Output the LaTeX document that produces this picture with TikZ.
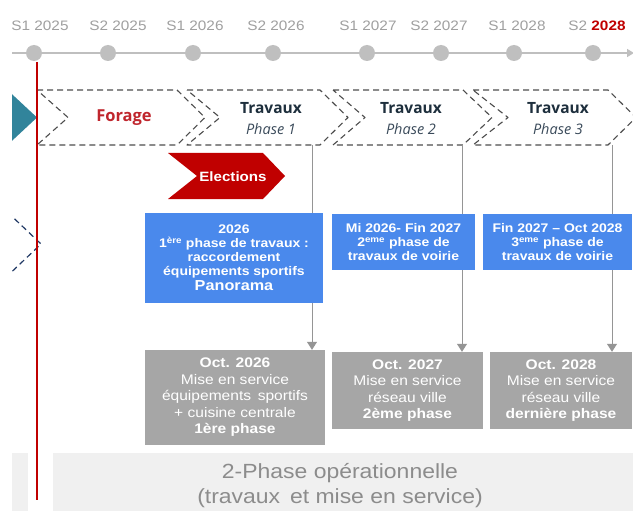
\documentclass[tikz,border=0pt]{standalone}
\usepackage{fontspec}
\setmainfont{Liberation Sans}
\newfontfamily\arw[FakeStretch=1.12]{Liberation Sans}
\newfontfamily\osans{Open Sans}
\usetikzlibrary{arrows.meta}
\definecolor{tlgray}{HTML}{BFBFBF}
\definecolor{lblgray}{HTML}{A0A0A0}
\definecolor{redline}{HTML}{C00000}
\definecolor{teal}{HTML}{31849B}
\definecolor{dashgray}{HTML}{4D4D4D}
\definecolor{navy}{HTML}{1F3864}
\definecolor{forage}{HTML}{C0262D}
\definecolor{travtxt}{HTML}{1E2F3D}
\definecolor{phasetxt}{HTML}{3A4A5A}
\definecolor{elec}{HTML}{C00000}
\definecolor{bluebox}{HTML}{4A89EC}
\definecolor{graybox}{HTML}{A6A6A6}
\definecolor{bandcol}{HTML}{F0F0F0}
\definecolor{bandtxt}{HTML}{8C8C8C}
\definecolor{conncol}{HTML}{959595}
\tikzset{
  tlline/.style={draw=tlgray, line width=1.6pt, -{Triangle[length=7pt,width=8pt]}},
  tldot/.style={circle, fill=tlgray, minimum size=16pt, inner sep=0pt},
  tllbl/.style={text=lblgray, font={\arw\fontsize{13.7}{15}\selectfont}},
  chev/.style={draw=dashgray, line width=1.1pt, dash pattern=on 6pt off 4pt, line join=round},
  travlbl/.style={align=center, font={\osans\fontsize{15.5}{21}\selectfont}},
  conn/.style={draw=conncol, line width=1pt, -{Triangle[length=8pt,width=10pt]}},
  bbox/.style={fill=bluebox, text=white, align=center, inner sep=0pt,
    font={\arw\bfseries\fontsize{12.5}{14}\selectfont}},
  gbox/.style={fill=graybox, text=white, align=center, inner sep=0pt,
    font={\arw\fontsize{13.9}{16.5}\selectfont}},
}
\begin{document}
\begin{tikzpicture}[x=1pt,y=-1pt]
\useasboundingbox (0,0) rectangle (633,511);
\fill[white] (0,0) rectangle (633,511);
\begin{scope}
\clip (12,0) rectangle (633,511);
% bottom band
\fill[bandcol] (12,453) rectangle (28,511);
\node[fill=bandcol, minimum width=580pt, minimum height=58pt, anchor=north west, inner sep=0pt] (band) at (53,453) {};
\node[text=bandtxt, align=center, font={\arw\fontsize{20.5}{25}\selectfont}] (bandtext) at (340,485.5) {2-Phase opérationnelle\\(travaux\, et mise en service)};
% timeline
\coordinate (tstart) at (12,53);
\coordinate (tend) at (634,53);
\draw[tlline] (tstart) -- (tend);
\foreach \i/\x in {1/34,2/108,3/193,4/273,5/367,6/441,7/514,8/593}{
  \node[tldot] (d\i) at (\x,53) {};
}
\node[tllbl] (l1) at (40,26) {S1 2025};
\node[tllbl] (l2) at (118,26) {S2 2025};
\node[tllbl] (l3) at (195,26) {S1 2026};
\node[tllbl] (l4) at (276,26) {S2 2026};
\node[tllbl] (l5) at (368,26) {S1 2027};
\node[tllbl] (l6) at (439,26) {S2 2027};
\node[tllbl] (l7) at (517,26) {S1 2028};
\node[tllbl] (l8) at (597,26) {S2 \textcolor{redline}{\bfseries 2028}};
% teal triangle and left dashed chevron
\fill[teal] (0,83) -- (37,117.5) -- (0,152) -- cycle;
\draw[draw=navy, line width=1.2pt, dash pattern=on 6pt off 4pt] (0,205) -- (41,244) -- (0,283);
% chevrons
\draw[chev] (37,90) -- (177,90) -- (205,117.5) -- (177,145) -- (37,145) -- (68,117.5) -- cycle;
\draw[chev] (187,90) -- (320,90) -- (348,117.5) -- (320,145) -- (187,145) -- (220,117.5) -- cycle;
\draw[chev] (333,90) -- (463,90) -- (492,117.5) -- (463,145) -- (333,145) -- (365,117.5) -- cycle;
\draw[chev] (473,90) -- (608,90) -- (636,117.5) -- (608,145) -- (473,145) -- (508,117.5) -- cycle;
\node[text=forage, font={\osans\bfseries\fontsize{16.5}{18}\selectfont}] (forage) at (124,118) {Forage};
\node[travlbl] (t1) at (271,118.5) {\textcolor{travtxt}{\bfseries Travaux}\\\textcolor{phasetxt}{\fontsize{14.5}{21}\selectfont\itshape Phase 1}};
\node[travlbl] (t2) at (411,118.5) {\textcolor{travtxt}{\bfseries Travaux}\\\textcolor{phasetxt}{\fontsize{14.5}{21}\selectfont\itshape Phase 2}};
\node[travlbl] (t3) at (558,118.5) {\textcolor{travtxt}{\bfseries Travaux}\\\textcolor{phasetxt}{\fontsize{14.5}{21}\selectfont\itshape Phase 3}};
% elections
\fill[elec] (168,153) -- (263,153) -- (285,176) -- (263,199) -- (168,199) -- (197,176) -- cycle;
\node[text=white, font={\arw\bfseries\fontsize{13.5}{15}\selectfont}] (elections) at (233,177) {Elections};
% gray boxes
\node[gbox, minimum width=180pt, minimum height=95pt] (g1) at (235,397.5) {{\bfseries Oct. 2026}\\Mise en service\\équipements\, sportifs\\+ cuisine centrale\\{\bfseries 1ère phase}};
\node[gbox, minimum width=151pt, minimum height=77pt] (g2) at (407.5,390.5) {{\bfseries Oct. 2027}\\Mise en service\\réseau ville\\{\bfseries 2ème phase}};
\node[gbox, minimum width=142pt, minimum height=77pt] (g3) at (561,390.5) {{\bfseries Oct. 2028}\\Mise en service\\réseau ville\\{\bfseries dernière phase}};
% connectors
\coordinate (c1) at (312,145);
\coordinate (c2) at (462,145);
\coordinate (c3) at (612,145);
\draw[conn] (c1) -- (c1 |- g1.north);
\draw[conn] (c2) -- (c2 |- g2.north);
\draw[conn] (c3) -- (c3 |- g3.north);
% blue boxes
\node[bbox, minimum width=178pt, minimum height=90pt] (b1) at (234,258) {2026\\1\textsuperscript{ère} phase de travaux :\\raccordement\\équipements sportifs\\[1pt]{\fontsize{14.5}{16}\selectfont Panorama}};
\node[bbox, minimum width=143pt, minimum height=56pt] (b2) at (403.5,242) {Mi 2026- Fin 2027\\2\textsuperscript{eme} phase de\\travaux de voirie};
\node[bbox, minimum width=149pt, minimum height=56pt] (b3) at (557.5,242) {Fin 2027 – Oct 2028\\3\textsuperscript{eme} phase de\\travaux de voirie};
% red vertical line
\coordinate (rtop) at (37,62);
\coordinate (rbot) at (37,500);
\draw[redline, line width=1.8pt] (rtop) -- (rbot);
\end{scope}
\end{tikzpicture}
\end{document}
